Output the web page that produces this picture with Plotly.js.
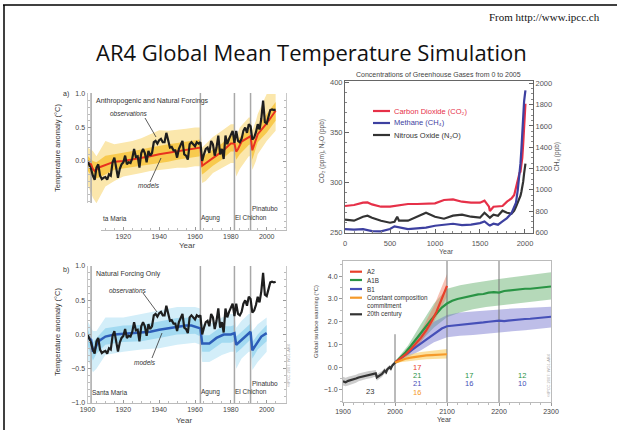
<!DOCTYPE html>
<html><head><meta charset="utf-8">
<script src="https://cdn.plot.ly/plotly-3.0.1.min.js"></script>
<style>html,body{margin:0;padding:0;background:#fff}#chart{width:617px;height:430px}</style>
</head><body><div id="chart"></div>
<script>
// ---------- Panels a & b: observed global mean temperature anomaly, 1900-2005 ----------
const obsStartYear = 1900;
const obs = [
  0.00,-0.05,-0.12,-0.22,-0.28,-0.10,-0.05,-0.22,-0.27,-0.25,
 -0.24,-0.28,-0.20,-0.22,-0.02, 0.05,-0.13,-0.25,-0.12,-0.05,
 -0.02, 0.08,-0.05,-0.02,-0.03, 0.04, 0.18, 0.06, 0.07,-0.10,
  0.12, 0.18, 0.12,-0.02, 0.15, 0.08, 0.12, 0.28, 0.30, 0.26,
  0.31, 0.33, 0.28, 0.28, 0.42, 0.30, 0.20, 0.21, 0.16, 0.16,
  0.05, 0.18, 0.25, 0.30, 0.10, 0.08, 0.02, 0.25, 0.28, 0.24,
  0.22, 0.28, 0.26, 0.28, 0.00, 0.10, 0.18, 0.20, 0.12, 0.30,
  0.25, 0.08, 0.20, 0.38, 0.10, 0.18, 0.03, 0.38, 0.25, 0.33,
  0.40, 0.45, 0.27, 0.45, 0.30, 0.28, 0.33, 0.45, 0.50, 0.42,
  0.55, 0.52, 0.32, 0.35, 0.43, 0.55, 0.47, 0.63, 0.90, 0.58,
  0.56, 0.68, 0.76, 0.77, 0.76, 0.77];
const obsYears = obs.map((_, i) => obsStartYear + i);

// Panel a: anthropogenic + natural models (mean and ensemble envelope)
const modelAYears = [1900,1902,1903,1904,1906,1910,1915,1920,1925,1930,1935,1940,1945,1950,1955,1960,1963,1964,1966,1970,1975,1980,1982,1983,1984,1986,1990,1991,1992,1993,1995,2000,2005];
const modelA      = [-0.03,-0.05,-0.12,-0.15,-0.10,-0.06,-0.01,0.00,0.02,0.05,0.07,0.10,0.12,0.15,0.17,0.19,0.20,-0.07,-0.03,0.05,0.14,0.26,0.26,0.14,0.18,0.29,0.36,0.37,0.16,0.25,0.40,0.56,0.75];
const bandAYears  = [1900,1903,1905,1910,1915,1920,1925,1930,1935,1940,1945,1950,1955,1960,1963,1964,1966,1970,1975,1980,1982,1983,1985,1990,1991,1992,1994,1995,2000,2005];
const bandAOutHi  = [0.20,0.15,0.07,0.30,0.25,0.27,0.30,0.34,0.40,0.46,0.45,0.46,0.48,0.50,0.50,0.20,0.25,0.36,0.45,0.55,0.55,0.36,0.50,0.65,0.65,0.46,0.60,0.70,1.00,1.00];
const bandAOutLo  = [-0.35,-0.55,-0.63,-0.38,-0.30,-0.23,-0.20,-0.18,-0.15,-0.13,-0.12,-0.10,-0.10,-0.08,-0.08,-0.33,-0.30,-0.18,-0.10,-0.03,-0.03,-0.23,-0.12,0.07,0.07,-0.13,0.00,0.10,0.30,0.45];
const bandAInHi   = [0.08,0.00,-0.02,0.08,0.10,0.12,0.14,0.17,0.20,0.23,0.25,0.27,0.29,0.31,0.32,0.06,0.10,0.17,0.26,0.38,0.38,0.26,0.36,0.48,0.49,0.30,0.46,0.52,0.70,0.88];
const bandAInLo   = [-0.14,-0.25,-0.26,-0.20,-0.13,-0.12,-0.10,-0.07,-0.05,-0.03,-0.01,0.02,0.04,0.06,0.07,-0.20,-0.16,-0.07,0.02,0.14,0.14,0.02,0.10,0.24,0.25,0.02,0.20,0.28,0.42,0.60];

// Panel b: natural-only models
const modelBYears = [1900,1902,1903,1904,1906,1910,1915,1920,1925,1930,1935,1940,1945,1950,1955,1958,1963,1964,1968,1972,1976,1980,1982,1983,1986,1990,1991,1992,1994,1997,2000];
const modelB      = [-0.03,-0.08,-0.25,-0.22,-0.10,-0.03,0.00,0.01,0.02,0.02,0.04,0.07,0.09,0.12,0.13,0.13,0.09,-0.13,-0.13,-0.05,0.00,0.00,0.02,-0.15,-0.08,0.02,0.04,-0.23,-0.15,-0.03,0.02];
const bandBYears  = [1900,1903,1905,1910,1920,1930,1940,1950,1960,1963,1964,1968,1975,1980,1982,1983,1986,1990,1991,1992,1995,2000];
const bandBOutHi  = [0.20,0.05,0.05,0.25,0.25,0.30,0.35,0.40,0.40,0.38,0.15,0.15,0.25,0.30,0.30,0.10,0.20,0.30,0.30,0.05,0.15,0.25];
const bandBOutLo  = [-0.35,-0.55,-0.50,-0.30,-0.25,-0.22,-0.20,-0.15,-0.12,-0.15,-0.40,-0.40,-0.30,-0.25,-0.25,-0.50,-0.35,-0.25,-0.25,-0.52,-0.40,-0.25];
const bandBInHi   = [0.09,-0.12,-0.05,0.09,0.13,0.14,0.19,0.24,0.25,0.21,-0.01,-0.01,0.12,0.12,0.14,-0.03,0.04,0.14,0.16,-0.11,0.00,0.14];
const bandBInLo   = [-0.15,-0.38,-0.28,-0.15,-0.11,-0.10,-0.05,0.00,0.01,-0.03,-0.25,-0.25,-0.12,-0.12,-0.10,-0.27,-0.20,-0.10,-0.08,-0.35,-0.22,-0.10];

const volcanoYears = [1902, 1963, 1982, 1991];

// ---------- Panel c: greenhouse gas concentrations, year 0-2005 ----------
const ghgYears = [0,100,200,250,300,400,500,550,580,600,700,800,900,1000,1100,1200,1300,1400,1500,1550,1600,1610,1650,1700,1750,1800,1850,1880,1900,1920,1940,1950,1960,1970,1980,1990,2000,2005];
const co2 = [276.7,277.7,280,280.3,278.3,276,276,276.5,277,277,278.7,278.7,278.7,279.3,282.7,283.3,281,280,280,282,276,271.7,276,276,276.7,281,284.3,287.7,296,303,310,311,317,325,339,354,369,379];
const n2o = [263,262,266,267,265,262,260,261,266,262,262,266,270,266,264,267,268,266,265,270,266,265,268,267,272,270,269,272,276,280,284,287,291,295,301,309,316,319];
const ch4 = [631,625,631,625,612,609,631,656,650,650,631,637,644,662,672,681,668,672,687,703,668,665,681,672,703,734,780,843,880,1000,1150,1250,1380,1550,1700,1830,1900,1935];

// ---------- Panel d: projected global surface warming ----------
const c20Years = [1900,1905,1910,1915,1920,1925,1930,1935,1940,1945,1950,1955,1960,1963,1965,1970,1975,1980,1983,1985,1990,1992,1995,2000];
const c20      = [-0.62,-0.66,-0.60,-0.57,-0.55,-0.50,-0.45,-0.42,-0.38,-0.36,-0.33,-0.32,-0.28,-0.27,-0.45,-0.36,-0.30,-0.15,-0.22,-0.10,0.00,-0.06,0.08,0.20];
const c20Hi    = [-0.42,-0.46,-0.42,-0.40,-0.38,-0.33,-0.28,-0.25,-0.21,-0.19,-0.17,-0.16,-0.13,-0.12,-0.30,-0.22,-0.17,-0.03,-0.10,0.01,0.10,0.04,0.16,0.26];
const c20Lo    = [-0.80,-0.84,-0.80,-0.76,-0.73,-0.68,-0.62,-0.58,-0.55,-0.52,-0.49,-0.48,-0.43,-0.42,-0.60,-0.50,-0.43,-0.28,-0.34,-0.22,-0.10,-0.16,0.00,0.14];

const shortYears = [2000,2010,2020,2030,2040,2050,2060,2070,2080,2090,2100];
const a2  = [0.20,0.36,0.55,0.78,1.02,1.30,1.62,2.00,2.45,2.98,3.58];
const cc  = [0.20,0.30,0.37,0.42,0.46,0.49,0.52,0.53,0.55,0.56,0.57];
const ccHi= [0.25,0.40,0.50,0.57,0.63,0.67,0.70,0.72,0.75,0.77,0.80];
const ccLo= [0.15,0.22,0.26,0.29,0.31,0.33,0.35,0.36,0.37,0.38,0.38];
const a2BandYears = [2000,2025,2050,2075,2100];
const a2Hi = [0.25,0.80,1.60,2.70,4.10];
const a2Lo = [0.15,0.55,1.10,2.00,3.10];

const longYears = [2000,2010,2020,2030,2040,2050,2060,2070,2080,2090,2100,2110,2120,2130,2140,2150,2160,2170,2180,2190,2200,2210,2220,2230,2240,2250,2260,2270,2280,2290,2300];
const a1b = [0.20,0.42,0.65,0.92,1.20,1.50,1.80,2.10,2.38,2.62,2.80,2.92,3.00,3.05,3.12,3.15,3.20,3.22,3.28,3.30,3.28,3.35,3.38,3.40,3.42,3.45,3.45,3.48,3.50,3.52,3.55];
const b1  = [0.20,0.38,0.55,0.72,0.88,1.05,1.22,1.40,1.55,1.70,1.80,1.82,1.85,1.88,1.90,1.92,1.95,1.97,2.00,2.02,2.05,2.03,2.06,2.08,2.10,2.12,2.13,2.15,2.17,2.20,2.22];
const longBandYears = [2000,2025,2050,2075,2100,2125,2150,2175,2200,2225,2250,2275,2300];
const a1bHi = [0.25,0.95,1.90,2.80,3.45,3.60,3.70,3.80,3.88,3.95,4.02,4.10,4.18];
const a1bLo = [0.15,0.50,1.15,1.75,2.20,2.40,2.55,2.65,2.72,2.80,2.86,2.92,2.98];
const b1Hi  = [0.25,0.80,1.50,2.00,2.30,2.40,2.45,2.50,2.55,2.58,2.60,2.63,2.66];
const b1Lo  = [0.15,0.45,0.75,1.10,1.32,1.38,1.42,1.48,1.52,1.58,1.63,1.68,1.75];
const projDividerYears = [2100, 2200];

// ---------- helpers ----------
const W = 617, H = 430;
const px = x => x / W, py = y => 1 - y / H;
const F = 'Liberation Sans, Arial, DejaVu Sans, sans-serif';

function band(xs, hi, lo, color, xa, ya) {
  return {x: xs.concat(xs.slice().reverse()), y: hi.concat(lo.slice().reverse()),
    fill: 'toself', fillcolor: color, mode: 'lines', line: {width: 0},
    xaxis: xa, yaxis: ya, hoverinfo: 'skip'};
}
function line(xs, ys, color, width, xa, ya) {
  return {x: xs, y: ys, mode: 'lines', line: {color: color, width: width},
    xaxis: xa, yaxis: ya, hoverinfo: 'skip'};
}
function vlines(years, y0, y1, color, width, xa, ya) {
  const xs = [], ys = [];
  years.forEach(v => { xs.push(v, v, null); ys.push(y0, y1, null); });
  return {x: xs, y: ys, mode: 'lines', line: {color: color, width: width}, xaxis: xa, yaxis: ya, hoverinfo: 'skip'};
}

const traces = [
  // panel a
  band(bandAYears, bandAOutHi, bandAOutLo, '#fbe7ac', 'x', 'y'),
  band(bandAYears, bandAInHi, bandAInLo, '#f8ca4e', 'x', 'y'),
  vlines(volcanoYears, -1.03, 1.015, '#a8a8a8', 1.5, 'x', 'y'),
  line(modelAYears, modelA, '#e8321e', 2, 'x', 'y'),
  line(obsYears, obs, '#1e1e1e', 2.2, 'x', 'y'),
  // panel b
  band(bandBYears, bandBOutHi, bandBOutLo, '#d3eef9', 'x2', 'y2'),
  band(bandBYears, bandBInHi, bandBInLo, '#a3daf1', 'x2', 'y2'),
  vlines(volcanoYears, -1, 1, '#a8a8a8', 1.5, 'x2', 'y2'),
  line(modelBYears, modelB, '#2c5db8', 2.5, 'x2', 'y2'),
  line(obsYears, obs, '#1e1e1e', 2.2, 'x2', 'y2'),
  // panel c
  line(ghgYears, co2, '#e63048', 2.2, 'x3', 'y3'),
  line(ghgYears, n2o, '#333333', 2.2, 'x3', 'y3'),
  line(ghgYears, ch4, '#3d40a0', 2.2, 'x3', 'y4'),
  // panel d
  band(longBandYears, a1bHi, a1bLo, 'rgba(70,160,80,0.40)', 'x4', 'y5'),
  band(longBandYears, b1Hi, b1Lo, 'rgba(110,110,205,0.45)', 'x4', 'y5'),
  band(a2BandYears, a2Hi, a2Lo, 'rgba(240,120,90,0.45)', 'x4', 'y5'),
  band(shortYears, ccHi, ccLo, 'rgba(250,200,80,0.55)', 'x4', 'y5'),
  band(c20Years, c20Hi, c20Lo, 'rgba(130,130,130,0.40)', 'x4', 'y5'),
  vlines(projDividerYears, -1.53, 4.67, '#777777', 1, 'x4', 'y5'),
  vlines([2000], -1.53, 1.45, '#777777', 1, 'x4', 'y5'),
  line(longYears, b1, '#4650b8', 2.2, 'x4', 'y5'),
  line(longYears, a1b, '#2a9445', 2.2, 'x4', 'y5'),
  line(shortYears, a2, '#e8402a', 2.2, 'x4', 'y5'),
  line(shortYears, cc, '#f59a2a', 2.2, 'x4', 'y5'),
  line(c20Years, c20, '#333333', 2.2, 'x4', 'y5')
];

const abX = {showgrid:false, zeroline:false, showline:true, linecolor:'#bbbbbb', linewidth:1,
  ticks:'inside', ticklen:3, tickcolor:'#999', tick0:1900, dtick:20,
  tickfont:{family:F, size:7, color:'#444'},
  minor:{tick0:1900, dtick:5, ticks:'inside', ticklen:2, tickcolor:'#bbb'}};
const abY = {showgrid:false, zeroline:false, showline:true, mirror:'ticks', linecolor:'#c8c8c8', linewidth:1,
  ticks:'inside', ticklen:3, tickcolor:'#999', tickformat:'.1f',
  tickfont:{family:F, size:7, color:'#444'},
  minor:{tick0:0, dtick:0.1, ticks:'inside', ticklen:2, tickcolor:'#bbb'}};

const layout = {
  width: W, height: H, margin:{l:0, r:0, t:0, b:0},
  paper_bgcolor:'#ffffff', plot_bgcolor:'rgba(0,0,0,0)', showlegend:false,
  font:{family:F, size:7, color:'#333'},
  xaxis: Object.assign({}, abX, {domain:[px(87.5), px(285.5)], range:[1900, 2010.5], anchor:'y'}),
  yaxis: Object.assign({}, abY, {domain:[py(230), py(93)], range:[-1.03, 1.015], anchor:'x', tickvals:[0, 0.5, 1]}),
  xaxis2: Object.assign({}, abX, {domain:[px(87.5), px(285.5)], range:[1900, 2010.5], anchor:'y2'}),
  yaxis2: Object.assign({}, abY, {domain:[py(403), py(266)], range:[-1, 1], anchor:'x2', tickvals:[-1, -0.5, 0, 0.5, 1]}),
  xaxis3: {domain:[px(345), px(533)], range:[0, 2089], anchor:'y3', showgrid:false, zeroline:false,
    showline:true, mirror:true, linecolor:'#666', linewidth:1, ticks:'inside', ticklen:4, tickcolor:'#666',
    tickvals:[0, 500, 1000, 1500, 2000], ticklabelstandoff:3,
    tickfont:{family:F, size:7.5, color:'#555'},
    minor:{tick0:0, dtick:100, ticks:'inside', ticklen:2, tickcolor:'#888'}},
  yaxis3: {domain:[py(233), py(81)], range:[249.7, 401.7], anchor:'x3', showgrid:false, zeroline:false,
    showline:true, linecolor:'#666', linewidth:1, ticks:'inside', ticklen:4, tickcolor:'#666',
    tickvals:[250, 300, 350, 400], tickfont:{family:F, size:7.5, color:'#555'},
    minor:{tick0:250, dtick:10, ticks:'inside', ticklen:2, tickcolor:'#888'}},
  yaxis4: {overlaying:'y3', side:'right', anchor:'x3', range:[594, 2022], showgrid:false, zeroline:false,
    showline:true, linecolor:'#666', linewidth:1, ticks:'inside', ticklen:4, tickcolor:'#666',
    tickvals:[600, 800, 1000, 1200, 1400, 1600, 1800, 2000], tickfont:{family:F, size:7.5, color:'#555'},
    minor:{tick0:600, dtick:50, ticks:'inside', ticklen:2, tickcolor:'#888'}},
  xaxis4: {domain:[px(343), px(551)], range:[1900, 2300], anchor:'y5', showgrid:false, zeroline:false,
    showline:true, mirror:true, linecolor:'#bbbbbb', linewidth:1, ticks:'outside', ticklen:3, tickcolor:'#999',
    tick0:1900, dtick:100, tickfont:{family:F, size:7, color:'#444'},
    minor:{tick0:1900, dtick:20, ticks:'outside', ticklen:2, tickcolor:'#bbb'}},
  yaxis5: {domain:[py(402), py(261)], range:[-1.53, 4.67], anchor:'x4', showgrid:false, zeroline:false,
    showline:true, mirror:true, linecolor:'#bbbbbb', linewidth:1, ticks:'outside', ticklen:3, tickcolor:'#999',
    tick0:0, dtick:1, tickformat:'.1f', tickfont:{family:F, size:7, color:'#444'},
    minor:{tick0:0, dtick:0.5, ticks:'outside', ticklen:2, tickcolor:'#bbb'}},
  shapes: [],
  annotations: []
};

const S = layout.shapes;
function L(x0, y0, x1, y1, color, w) {
  S.push({type:'line', xref:'paper', yref:'paper', x0:px(x0), y0:py(y0), x1:px(x1), y1:py(y1),
    line:{color:color, width:w}});
}
// white patch hiding the clipped lower-left corner of panel a (as in the slide)
S.push({type:'rect', xref:'paper', yref:'paper', layer:'above', x0:px(46), x1:px(101), y0:py(203), y1:py(242),
  fillcolor:'#ffffff', line:{width:0}});
// slide frame
L(3, 5, 617, 5, '#000', 1.5);
L(4, 5, 4, 430, '#000', 1.5);
// pointer lines for "observations" / "models"
L(145, 118, 156, 137, '#333', 0.8);
L(150, 182, 161, 158, '#333', 0.8);
L(143, 293, 157, 312, '#333', 0.8);
L(152, 358, 162, 333, '#333', 0.8);
// panel c legend samples
L(373, 111, 390, 111, '#e63048', 2.2);
L(373, 123, 390, 123, '#3d40a0', 2.2);
L(373, 135, 390, 135, '#333333', 2.2);
// panel d legend samples
L(350, 271.7, 362, 271.7, '#e8402a', 2.2);
L(350, 280, 362, 280, '#2a9445', 2.2);
L(350, 289, 362, 289, '#4650b8', 2.2);
L(350, 297.7, 362, 297.7, '#f59a2a', 2.2);
L(350, 314.3, 362, 314.3, '#333333', 2.2);

const A = layout.annotations;
function T(text, x, y, size, color, o) {
  A.push(Object.assign({xref:'paper', yref:'paper', x:px(x), y:py(y), text:text, showarrow:false,
    xanchor:'left', yanchor:'middle', borderpad:0,
    font:{family:F, size:size, color:color}}, o || {}));
}
// header
T('From http://www.ipcc.ch', 601, 17, 11, '#111', {xanchor:'right', font:{family:'Liberation Serif, Times New Roman, serif', size:11, color:'#111'}});
T('AR4 Global Mean Temperature Simulation', 311.5, 52, 22, '#111', {xanchor:'center', font:{family:'Open Sans, sans-serif', size:22, color:'#111'}});

// panel a
T('a)', 62, 94, 7, '#333');
T('Anthropogenic and Natural Forcings', 95, 101, 7, '#333');
T('<i>observations</i>', 109, 114, 6.5, '#333');
T('<i>models</i>', 137, 186, 6.5, '#333');
T('Temperature anomaly (°C)', 57, 148, 7.5, '#333', {xanchor:'center', textangle:-90});
T('ta Maria', 102, 218, 6.5, '#333');
T('Agung', 200, 218, 6.5, '#333');
T('El Chichon', 234, 217, 6.5, '#333');
T('Pinatubo', 251, 209, 6.5, '#333');
T('Year', 187, 246, 8, '#444', {xanchor:'center'});

// panel b
T('b)', 62, 270, 7, '#333');
T('Natural Forcing Only', 95, 274, 7, '#333');
T('<i>observations</i>', 108, 290, 6.5, '#333');
T('<i>models</i>', 133, 362, 6.5, '#333');
T('Temperature anomaly (°C)', 57, 332, 7.5, '#333', {xanchor:'center', textangle:-90});
T('Santa Maria', 91, 392, 6.5, '#333');
T('Agung', 200, 392, 6.5, '#333');
T('El Chichon', 234, 391, 6.5, '#333');
T('Pinatubo', 251, 383, 6.5, '#333');
T('Year', 184, 420, 8, '#444', {xanchor:'center'});
T('©IPCC 2007: WG1-AR4', 288, 365, 4, '#aaa', {xanchor:'center', textangle:-90});

// panel c
T('Concentrations of Greenhouse Gases from 0 to 2005', 439, 75, 7, '#444', {xanchor:'center'});
T('Carbon Dioxide (CO₂)', 393, 111, 7.5, '#e63048');
T('Methane (CH₄)', 393, 123, 7.5, '#3d40a0');
T('Nitrous Oxide (N₂O)', 393, 135, 7.5, '#333');
T('CO₂ (ppm), N₂O (ppb)', 322, 151, 6.5, '#555', {xanchor:'center', textangle:-90});
T('CH₄ (ppb)', 557, 157, 6.5, '#555', {xanchor:'center', textangle:-90});
T('Year', 446, 251, 7, '#555', {xanchor:'center'});

// panel d
T('A2', 366, 271.7, 6.3, '#333');
T('A1B', 366, 280, 6.3, '#333');
T('B1', 366, 289, 6.3, '#333');
T('Constant composition', 366, 297.7, 6.3, '#333');
T('commitment', 366, 305.7, 6.3, '#333');
T('20th century', 366, 314.3, 6.3, '#333');
T('23', 370, 391, 7.5, '#333', {xanchor:'center'});
T('17', 417, 367, 7.5, '#e8402a', {xanchor:'center'});
T('21', 417, 375, 7.5, '#2a9445', {xanchor:'center'});
T('21', 417, 383, 7.5, '#4650b8', {xanchor:'center'});
T('16', 417, 392, 7.5, '#f59a2a', {xanchor:'center'});
T('17', 469, 375, 7.5, '#2a9445', {xanchor:'center'});
T('16', 469, 383, 7.5, '#4650b8', {xanchor:'center'});
T('12', 522, 375, 7.5, '#2a9445', {xanchor:'center'});
T('10', 522, 383, 7.5, '#4650b8', {xanchor:'center'});
T('Global surface warming (°C)', 316, 322, 5.8, '#444', {xanchor:'center', textangle:-90});
T('Year', 444, 419, 7, '#444', {xanchor:'center'});
T('©IPCC 2007: WG1-AR4', 548, 375, 4, '#aaa', {xanchor:'center', textangle:-90});

Plotly.newPlot('chart', traces, layout, {staticPlot:true, displayModeBar:false});
</script>
</body></html>
